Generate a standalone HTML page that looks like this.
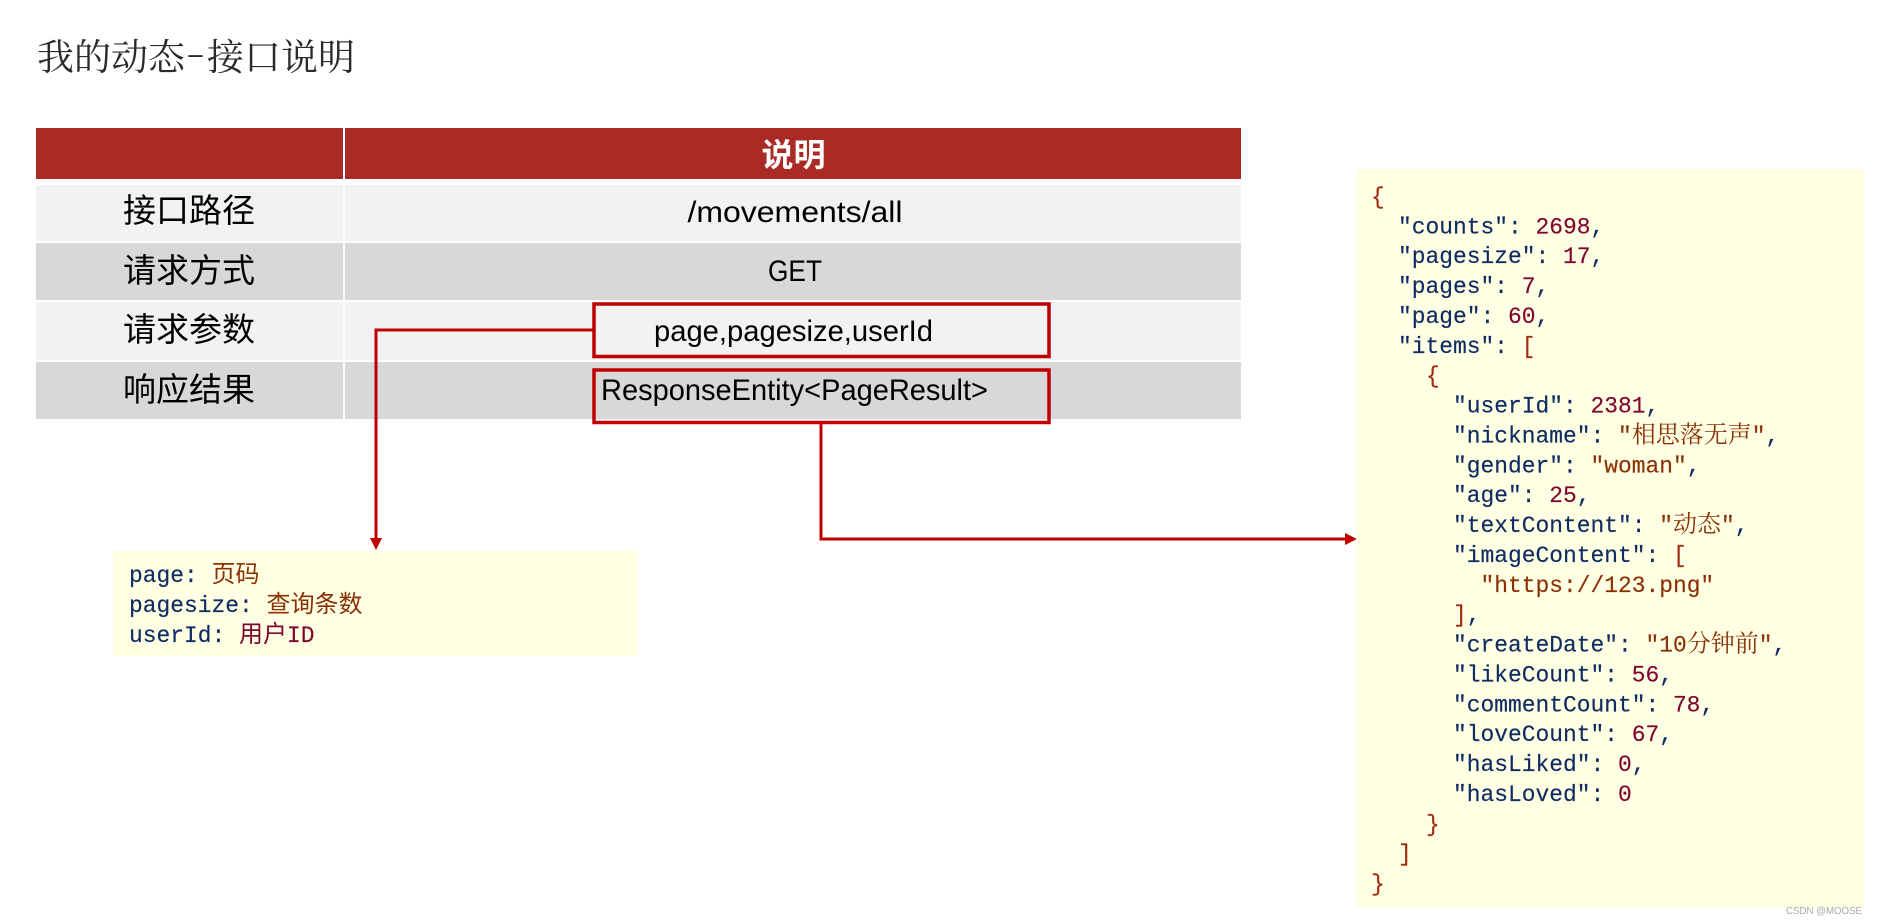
<!DOCTYPE html>
<html><head><meta charset="utf-8">
<style>
html,body{margin:0;padding:0;background:#fff;width:1877px;height:922px;overflow:hidden}
svg{display:block}
.m{font-family:"Liberation Mono","Noto Sans CJK SC",monospace;font-size:22.92px;fill:#0f2b63;stroke:#0f2b63;stroke-width:.15}
.n{fill:#7d0530;stroke:#7d0530}.s{fill:#8a3106;stroke:#8a3106}.b{fill:#a02a10;stroke:#a02a10}
.z{font-family:"Noto Serif CJK SC",serif;font-size:24px;stroke-width:0}
.y{font-family:"Noto Sans CJK SC",sans-serif;font-size:24px;stroke-width:0}
.l{font-family:"Liberation Sans","Noto Sans CJK SC",sans-serif;font-size:33px;fill:#000;text-anchor:middle}
.v{font-family:"Liberation Sans",sans-serif;font-size:30px;fill:#000}
.t{font-family:"Noto Serif CJK SC",serif;font-size:37px;fill:#2b2b2b}
</style></head><body>
<svg width="1877" height="922" viewBox="0 0 1877 922" xmlns="http://www.w3.org/2000/svg">
<rect width="1877" height="922" fill="#fff"/>
<text class="t" x="37" y="70">我的动态</text>
<text class="t" x="186" y="66" textLength="19" lengthAdjust="spacingAndGlyphs">-</text>
<text class="t" x="207" y="70">接口说明</text>

<rect x="36" y="128" width="307" height="51" fill="#aa2b26"/>
<rect x="345" y="128" width="896" height="51" fill="#aa2b26"/>
<rect x="36" y="185" width="307" height="56" fill="#f2f2f2"/>
<rect x="345" y="185" width="896" height="56" fill="#f2f2f2"/>
<rect x="36" y="243" width="307" height="57" fill="#d8d8d8"/>
<rect x="345" y="243" width="896" height="57" fill="#d8d8d8"/>
<rect x="36" y="302" width="307" height="58" fill="#f2f2f2"/>
<rect x="345" y="302" width="896" height="58" fill="#f2f2f2"/>
<rect x="36" y="362" width="307" height="57" fill="#d8d8d8"/>
<rect x="345" y="362" width="896" height="57" fill="#d8d8d8"/>

<text x="793.5" y="166" font-family="'Noto Sans CJK SC',sans-serif" font-size="32" font-weight="700" fill="#fff" text-anchor="middle">说明</text>
<text class="l" x="189" y="222">接口路径</text>
<text class="l" x="189" y="282">请求方式</text>
<text class="l" x="189" y="341">请求参数</text>
<text class="l" x="189" y="401">响应结果</text>

<text class="v" x="687.5" y="222" textLength="215" lengthAdjust="spacingAndGlyphs">/movements/all</text>
<text class="v" x="768" y="281" textLength="54" lengthAdjust="spacingAndGlyphs">GET</text>
<text class="v" x="654" y="341" textLength="279" lengthAdjust="spacingAndGlyphs">page,pagesize,userId</text>
<text class="v" x="601" y="400" textLength="387" lengthAdjust="spacingAndGlyphs">ResponseEntity&lt;PageResult&gt;</text>

<rect x="594" y="304" width="455" height="52.5" fill="none" stroke="#c00000" stroke-width="3.5"/>
<rect x="594" y="370" width="455" height="52.5" fill="none" stroke="#c00000" stroke-width="3.5"/>

<path d="M593 330H376V539" fill="none" stroke="#c00000" stroke-width="3"/>
<path d="M370 538H382L376 550Z" fill="#c00000"/>
<path d="M821 424V539H1346" fill="none" stroke="#c00000" stroke-width="3"/>
<path d="M1345 533V545L1357 539Z" fill="#c00000"/>

<rect x="113" y="551" width="525" height="105" fill="#ffffe3"/>
<text class="m" x="129" y="582">page: <tspan class="s y">页码</tspan></text>
<text class="m" x="129" y="612">pagesize: <tspan class="s y">查询条数</tspan></text>
<text class="m" x="129" y="642">userId: <tspan class="n y">用户</tspan><tspan class="n">ID</tspan></text>

<rect x="1356" y="169" width="508" height="739" fill="#ffffe3"/>
<text class="m b" x="1371" y="203.5">{</text>
<text class="m" x="1398" y="233.4">"counts": <tspan class="n">2698</tspan>,</text>
<text class="m" x="1398" y="263.2">"pagesize": <tspan class="n">17</tspan>,</text>
<text class="m" x="1398" y="293.1">"pages": <tspan class="n">7</tspan>,</text>
<text class="m" x="1398" y="323">"page": <tspan class="n">60</tspan>,</text>
<text class="m" x="1398" y="352.9">"items": <tspan class="b">[</tspan></text>
<text class="m b" x="1426" y="382.7">{</text>
<text class="m" x="1453" y="412.6">"userId": <tspan class="n">2381</tspan>,</text>
<text class="m" x="1453" y="442.5">"nickname": <tspan class="s">"</tspan><tspan class="s z">相思落无声</tspan><tspan class="s">"</tspan>,</text>
<text class="m" x="1453" y="472.4">"gender": <tspan class="s">"woman"</tspan>,</text>
<text class="m" x="1453" y="502.2">"age": <tspan class="n">25</tspan>,</text>
<text class="m" x="1453" y="532.1">"textContent": <tspan class="s">"</tspan><tspan class="s z">动态</tspan><tspan class="s">"</tspan>,</text>
<text class="m" x="1453" y="562">"imageContent": <tspan class="b">[</tspan></text>
<text class="m s" x="1480.5" y="591.8">"https://123.png"</text>
<text class="m" x="1453" y="621.7"><tspan class="b">]</tspan>,</text>
<text class="m" x="1453" y="651.6">"createDate": <tspan class="s">"10</tspan><tspan class="s z">分钟前</tspan><tspan class="s">"</tspan>,</text>
<text class="m" x="1453" y="681.5">"likeCount": <tspan class="n">56</tspan>,</text>
<text class="m" x="1453" y="711.3">"commentCount": <tspan class="n">78</tspan>,</text>
<text class="m" x="1453" y="741.2">"loveCount": <tspan class="n">67</tspan>,</text>
<text class="m" x="1453" y="771.1">"hasLiked": <tspan class="n">0</tspan>,</text>
<text class="m" x="1453" y="801">"hasLoved": <tspan class="n">0</tspan></text>
<text class="m b" x="1426" y="830.8">}</text>
<text class="m b" x="1398" y="860.7">]</text>
<text class="m b" x="1371" y="890.6">}</text>

<text x="1786" y="914" font-family="'Liberation Sans',sans-serif" font-size="10.5" fill="#a8a8a8" textLength="76" lengthAdjust="spacingAndGlyphs">CSDN @MOOSE</text>
</svg>
</body></html>
